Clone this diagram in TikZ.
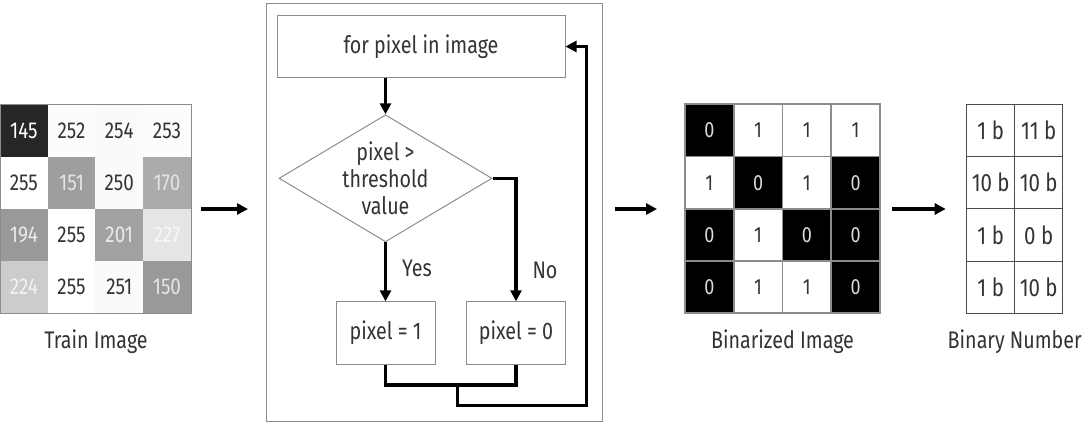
\documentclass[tikz,border=0pt]{standalone}
\usepackage{fontspec}
\setmainfont{Fira Sans}[FakeStretch=0.82]
\usetikzlibrary{shapes.geometric,arrows.meta,positioning}

\definecolor{ink}{HTML}{333333}
\definecolor{rim}{HTML}{8C8C8C}

\tikzset{
  flowline/.style={line width=3.2pt, -{Triangle[length=11pt,width=11pt]}},
  joinline/.style={line width=3.2pt},
  procbox/.style={draw=rim, line width=1pt, text=ink, inner sep=0pt},
  decbox/.style={draw=rim, line width=1pt, diamond, text=ink, align=center,
    inner sep=-8pt, minimum width=213pt, minimum height=122pt, font=\fontsize{24}{27}\selectfont},
  pixcell/.style={minimum width=47.7pt, minimum height=52.2pt, inner sep=0pt, anchor=center},
  bincell/.style={draw=rim, line width=1.8pt, minimum width=48.75pt, minimum height=52.25pt, inner sep=0pt},
  numcell/.style={draw=black!70, line width=0.8pt, minimum width=48pt, minimum height=52.25pt, inner sep=0pt, text=ink,
    font=\fontsize{25}{27}\selectfont},
  caption/.style={text=ink, font=\fontsize{24}{26}\selectfont}
}

\begin{document}
\begin{tikzpicture}[x=1pt, y=-1pt, font=\fontsize{24}{24}\selectfont]

    % page size
    \useasboundingbox (0,0) rectangle (1083,432);
    \clip (0,0) rectangle (1083,432);

    % --- gray-level train image, 4x4 ---
    \node[minimum width=190.7pt, minimum height=209pt, inner sep=0pt, anchor=north west] (train) at (0,104.3) {};
    \foreach \c/\r/\v/\f/\t in {1/1/145/15/100, 2/1/252/99/20, 3/1/254/98/20, 4/1/253/99/20,
                                1/2/255/100/20, 2/2/151/62/90, 3/2/250/98/20, 4/2/170/67/90,
                                1/3/194/60/92, 2/3/255/100/20, 3/3/201/63/92, 4/3/227/90/97,
                                1/4/224/80/95, 2/4/255/100/20, 3/4/251/98/20, 4/4/150/60/90}
    {
      \node[pixcell, fill=white!\f!black, text=white!\t!black, font=\fontsize{23}{25}\selectfont]
        (t\c\r) at (47.7*\c-23.85, 104.3+52.2*\r-26.1) {\v};
    }
    \draw[rim, line width=1pt] (train.north west) rectangle (train.south east);
    \node[caption] (traincap) at (96,342) {Train Image};

    % --- thresholding loop ---
    \node[draw=rim, line width=1pt, minimum width=336pt, minimum height=418pt, inner sep=0pt, anchor=north west] (frame) at (266,3) {};
    \node[procbox, minimum width=288pt, minimum height=61.6pt] (loop) at (421,46.5) {for pixel in image};
    \node[decbox] (dec) at (385.5,178.3) {pixel >\\threshold\\value};
    \node[procbox, minimum width=99pt, minimum height=62.3pt] (yes) at (385.5,333) {pixel = 1};
    \node[procbox, minimum width=98.3pt, minimum height=62.3pt] (no) at (516,333) {pixel = 0};
    \coordinate (join) at (457.3,385);   % where both branches meet
    \coordinate (back) at (586.7,405.7); % corner of the return line

    \draw[flowline] (loop.south -| dec.north) -- (dec.north);
    \draw[flowline] (dec.south) -- (yes.north);
    \draw[flowline] (dec.east) -| (no.north);
    \node[text=ink] (yeslbl) at (417,268) {Yes};
    \node[text=ink] (nolbl) at (545,270) {No};
    \draw[joinline] (yes.south) |- (join) -| (no.south);
    \draw[flowline] (join) |- (back) |- (loop.east);

    % --- binarized image ---
    \node[minimum width=195pt, minimum height=209pt, inner sep=0pt, anchor=north west] (bin) at (685,104.3) {};
    \foreach \c/\r/\v in {1/1/0, 2/1/1, 3/1/1, 4/1/1,
                          1/2/1, 2/2/0, 3/2/1, 4/2/0,
                          1/3/0, 2/3/1, 3/3/0, 4/3/0,
                          1/4/0, 2/4/1, 3/4/1, 4/4/0}
    {
      \ifnum\v=0
        \node[bincell, fill=black, text=white!85!black, font=\fontsize{22}{24}\selectfont] (b\c\r) at (685+48.75*\c-24.375, 104.3+52.25*\r-26.125) {\v};
      \else
        \node[bincell, fill=white, text=ink, font=\fontsize{22}{24}\selectfont] (b\c\r) at (685+48.75*\c-24.375, 104.3+52.25*\r-26.125) {\v};
      \fi
    }
    \node[caption] (bincap) at (782.5,342) {Binarized Image};

    % --- binary numbers per row ---
    \node[minimum width=96pt, minimum height=209pt, inner sep=0pt, anchor=north west] (num) at (966.7,104.3) {};
    \foreach \c/\r/\v in {1/1/1 b, 2/1/11 b, 1/2/10 b, 2/2/10 b,
                          1/3/1 b, 2/3/0 b, 1/4/1 b, 2/4/10 b}
    {
      \node[numcell] (n\c\r) at (966.7+48*\c-24, 104.3+52.25*\r-26.125) {\v};
    }
    \node[caption] (numcap) at (1014.7,342) {Binary Number};

    % --- arrows between the stages ---
    \draw[flowline, shorten <=10pt, shorten >=18pt] (train.east) -- (train.east -| frame.west);
    \draw[flowline, shorten <=12pt, shorten >=28pt] (frame.east |- bin.west) -- (bin.west);
    \draw[flowline, shorten <=12pt, shorten >=21pt] (bin.east) -- (num.west);

\end{tikzpicture}
\end{document}
